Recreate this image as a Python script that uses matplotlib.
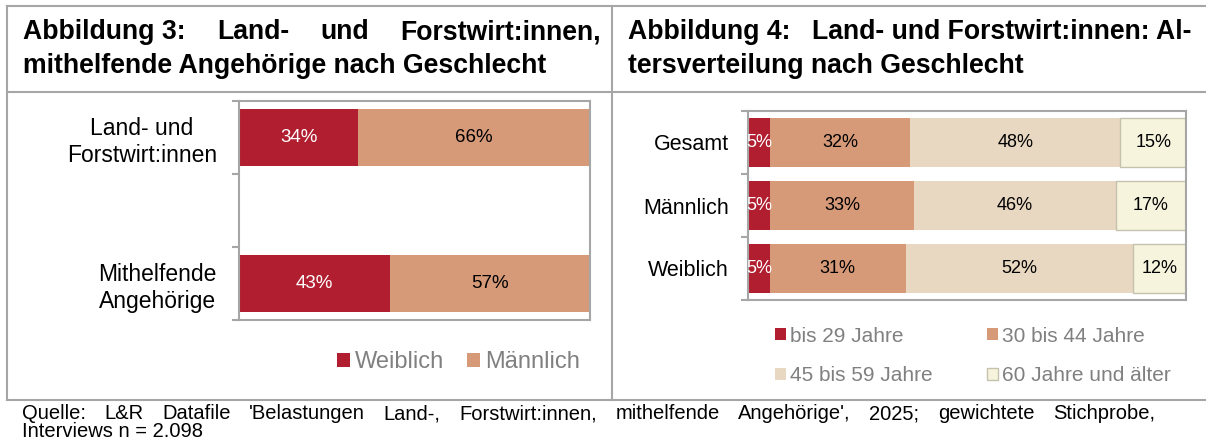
import numpy as np
import matplotlib
matplotlib.use('Agg')
import matplotlib.pyplot as plt
from matplotlib.lines import Line2D

plt.rcParams['font.family'] = ['Liberation Sans', 'DejaVu Sans']

# --- data ---
gender_cats = ['Land- und\nForstwirt:innen', 'Mithelfende\nAngehörige']
gender_names = ['Weiblich', 'Männlich']
weiblich = [34, 43]
maennlich = [66, 57]

age_cats = ['Gesamt', 'Männlich', 'Weiblich']
age_groups = ['bis 29 Jahre', '30 bis 44 Jahre', '45 bis 59 Jahre', '60 Jahre und älter']
bis29 = [5, 5, 5]
a30_44 = [32, 33, 31]
a45_59 = [48, 46, 52]
ab60 = [15, 17, 12]

title3 = ['Abbildung 3:', 'Land-', 'und', 'Forstwirt:innen,']
title3b = 'mithelfende Angehörige nach Geschlecht'
title4a = 'Abbildung 4:'
title4 = 'Land- und Forstwirt:innen: Al-'
title4b = 'tersverteilung nach Geschlecht'
source1 = "Quelle: L&R Datafile 'Belastungen Land-, Forstwirt:innen, mithelfende Angehörige', 2025; gewichtete Stichprobe,"
source2 = 'Interviews n = 2.098'

RED = '#B01E2F'
SALMON = '#D69A79'
BEIGE = '#E8D7C1'
CREAM = '#F6F4DC'
GRAY = '#A6A6A6'
LEGTXT = '#808080'

W, H = 1206, 443
fig = plt.figure(figsize=(W / 100, H / 100), dpi=100)


def fx(px):
    return px / W


def fy(py):
    return 1 - py / H


def justify(words, x_left, x_right, y_base, **kw):
    r = fig.canvas.get_renderer()
    items = [fig.text(0, fy(y_base), w, va='baseline', **kw) for w in words]
    widths = [t.get_window_extent(r).width for t in items]
    gap = (x_right - x_left - sum(widths)) / (len(words) - 1)
    x = x_left
    for t, w in zip(items, widths):
        t.set_x(fx(x))
        x += w + gap


# table lines
def hline(y, x0, x1):
    fig.add_artist(Line2D([fx(x0), fx(x1)], [fy(y), fy(y)], color=GRAY, lw=1.5,
                          transform=fig.transFigure))


def vline(x, y0, y1):
    fig.add_artist(Line2D([fx(x), fx(x)], [fy(y0), fy(y1)], color=GRAY, lw=1.5,
                          transform=fig.transFigure))


hline(6, 7, W)
hline(92, 7, W)
hline(400, 7, W)
vline(7, 6, 400)
vline(612, 6, 400)

# titles
TS = 19.2
justify(title3, 23, 601, 39, fontsize=TS, fontweight='bold')
fig.text(fx(23), fy(73), title3b, fontsize=TS, fontweight='bold', va='baseline')
fig.text(fx(628), fy(39), title4a, fontsize=TS, fontweight='bold', va='baseline')
fig.text(fx(1191), fy(39), title4, fontsize=TS, fontweight='bold', va='baseline', ha='right')
fig.text(fx(628), fy(73), title4b, fontsize=TS, fontweight='bold', va='baseline')

# source
justify(source1.split(' '), 22, 1155, 419, fontsize=14.5)
fig.text(fx(22), fy(437), source2, fontsize=14.5, va='baseline')


def frame(ax, ncat, step):
    for s in ax.spines.values():
        s.set_color(GRAY)
        s.set_linewidth(1.5)
    ax.set_xlim(0, 100)
    ax.set_xticks([])
    ax.set_yticks(np.arange(-0.5, ncat * step, step), minor=True)
    ax.tick_params(axis='y', which='minor', length=5, width=1.5, color=GRAY)


# --- Abbildung 3 ---
ax1 = fig.add_axes([fx(239), fy(320), (590 - 239) / W, (320 - 101) / H])
pos = np.array([0, 2])
b1 = ax1.barh(pos, weiblich, height=0.78, color=RED, label=gender_names[0])
b2 = ax1.barh(pos, maennlich, left=weiblich, height=0.78, color=SALMON, label=gender_names[1])
ax1.bar_label(b1, labels=[f'{v}%' for v in weiblich], label_type='center', color='white', fontsize=13.5)
ax1.bar_label(b2, labels=[f'{v}%' for v in maennlich], label_type='center', color='black', fontsize=13.5)
frame(ax1, 3, 1)
ax1.set_ylim(2.5, -0.5)
ax1.set_yticks(pos, labels=gender_cats, fontsize=16.5, ma='center')
ax1.tick_params(axis='y', which='major', length=0, pad=16)

fig.legend(handles=[b1, b2], labels=gender_names, loc='center left',
           bbox_to_anchor=(fx(325), fy(362)), ncol=2, frameon=False, fontsize=17,
           handlelength=0.55, handleheight=0.55, handletextpad=0.2,
           columnspacing=1.0, borderpad=0, labelcolor=LEGTXT)

# --- Abbildung 4 ---
ax2 = fig.add_axes([fx(748), fy(300), (1186 - 748) / W, (300 - 111) / H])
ypos = np.arange(len(age_cats))
series = [bis29, a30_44, a45_59, ab60]
fills = [RED, SALMON, BEIGE, CREAM]
edges = ['none', 'none', 'none', '#C4C2AE']
txtc = ['white', 'black', 'black', 'black']
left = np.zeros(len(age_cats))
handles = []
for vals, name, c, e, tc in zip(series, age_groups, fills, edges, txtc):
    b = ax2.barh(ypos, vals, left=left, height=0.78, color=c, edgecolor=e,
                 linewidth=1.0, label=name)
    ax2.bar_label(b, labels=[f'{v}%' for v in vals], label_type='center', color=tc, fontsize=13)
    left = left + np.array(vals)
    handles.append(b)
frame(ax2, 3, 1)
ax2.set_ylim(2.5, -0.5)
ax2.set_yticks(ypos, labels=age_cats, fontsize=15.5)
ax2.tick_params(axis='y', which='major', length=0, pad=13.7)

order = [0, 2, 1, 3]
fig.legend(handles=[handles[i] for i in order], labels=[age_groups[i] for i in order],
           loc='center left', bbox_to_anchor=(fx(765), fy(356)), ncol=2, frameon=False,
           fontsize=15, handlelength=0.52, handleheight=0.52, handletextpad=0.2,
           columnspacing=2.6, labelspacing=1.0, borderpad=0, labelcolor=LEGTXT)

fig.savefig('out.png', dpi=100)
